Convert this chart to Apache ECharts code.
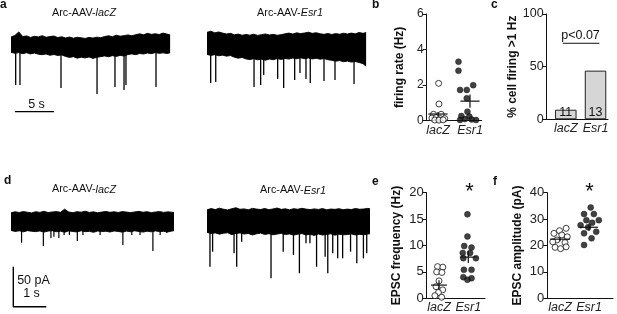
<!DOCTYPE html>
<html><head><meta charset="utf-8">
<script src="https://cdn.jsdelivr.net/npm/echarts@6/dist/echarts.min.js"></script>
<style>html,body{margin:0;padding:0;background:#fff}#c{width:617px;height:314px}</style>
</head><body><div id="c"></div>
<script>
const groups = ['lacZ', 'Esr1'];

// ---- panel a traces (time in s, amplitude arbitrary units) ----
const aTimes = [0,0.5,1,1.5,2,2.5,3,3.5,4,4.5,5,5.5,6,6.5,7,7.5,8,8.5,9,9.5,10,10.5,11,11.5,12,12.5,13,13.5,14,14.5,15,15.5,16,16.5,17,17.5,18,18.5,19,19.5,20,20.4];
const aLacZUpper = [5.5,6.8,9.5,5.9,6.4,5.2,6.1,5.6,6.6,5.3,5.9,6.3,5.1,5.7,4.8,5.5,4.6,5.3,4.9,4.4,5.2,4.7,5.4,5.0,5.9,6.5,5.8,6.9,6.2,6.6,7.2,6.5,7.4,8.0,7.3,8.4,7.6,8.1,7.5,8.6,7.8,7.2];
const aLacZLower = [-6.5,-7.4,-6.8,-7.6,-6.9,-7.8,-7.2,-8.0,-8.4,-7.9,-8.9,-8.3,-9.1,-8.6,-9.8,-10.6,-10.0,-11.2,-10.4,-11.0,-10.2,-11.4,-10.5,-10.0,-9.4,-10.1,-9.2,-9.8,-9.0,-9.5,-8.3,-7.8,-8.4,-7.5,-7.9,-7.1,-7.6,-6.8,-7.4,-7.0,-7.5,-6.9];
const aEsr1Upper = [9.2,10.1,8.8,9.5,8.6,7.9,8.4,7.3,7.8,6.9,7.5,7.0,7.7,6.8,7.4,7.9,7.1,7.6,6.9,7.4,8.0,8.6,7.9,8.8,8.2,8.7,9.3,8.4,8.9,8.1,7.6,8.3,7.5,8.2,7.7,8.5,7.9,8.6,8.0,9.1,8.4,9.0];
const aEsr1Lower = [-8.2,-9.0,-8.4,-9.3,-8.8,-9.6,-9.1,-10.4,-11.2,-10.6,-11.8,-12.3,-11.6,-12.5,-12.0,-12.8,-11.9,-12.4,-11.5,-12.2,-11.4,-11.9,-11.1,-11.7,-10.9,-11.6,-11.0,-11.8,-11.3,-12.0,-11.5,-12.4,-12.9,-13.6,-13.1,-14.0,-13.5,-14.3,-13.8,-14.6,-15.5,-17.5];
const aLacZSpikeT = [0.6,1.15,6.41,11.03,13.33,14.49,14.74,18.59];
const aLacZSpikeV = [-32.4,-32.4,-34.7,-39.5,-33.9,-36.3,-32.4,-33.9];
const aEsr1SpikeT = [0.47,1.12,6.03,6.88,7.27,9.06,9.83,11.24,11.92,12.69,13.24,15.0,16.41,18.85];
const aEsr1SpikeV = [-30.8,-30.0,-33.9,-32.4,-24.5,-27.6,-34.7,-28.4,-22.9,-27.6,-30.8,-29.2,-28.4,-31.6];
const aScaleBar = [[0.5,-53.4],[5.5,-53.4]]; // 5 s

// ---- panel d traces (time in s, current in pA) ----
const dTimes = [0,0.125,0.25,0.375,0.5,0.625,0.75,0.875,1,1.125,1.25,1.375,1.5,1.625,1.75,1.875,2,2.125,2.25,2.375,2.5,2.625,2.75,2.875,3,3.125,3.25,3.375,3.5,3.625,3.75,3.875,4,4.125,4.25,4.375,4.5,4.625,4.75,4.875,4.94];
const dLacZUpper = [11.5,12.8,11.9,13.1,12.2,11.4,12.9,12.0,13.4,11.8,12.6,13.0,12.1,16.0,12.5,11.7,12.9,12.3,13.5,12.0,12.7,11.6,12.4,13.2,12.1,12.8,11.9,13.0,12.4,11.8,12.6,13.3,12.2,12.9,11.7,12.5,13.1,12.0,12.7,12.2,11.9];
const dLacZLower = [-10.5,-11.8,-11.0,-12.3,-10.8,-11.6,-12.0,-11.2,-12.6,-11.4,-10.9,-12.2,-11.5,-12.8,-11.1,-11.9,-12.4,-11.0,-12.1,-11.7,-12.9,-11.3,-12.0,-11.6,-12.5,-11.2,-11.8,-12.7,-11.4,-12.2,-11.0,-11.9,-12.6,-11.5,-12.3,-11.1,-12.0,-11.7,-12.4,-11.3,-10.8];
const dEsr1Upper = [15.2,16.8,15.5,17.3,16.0,15.1,16.6,17.8,15.9,16.4,15.3,17.0,16.2,15.6,16.9,15.4,16.3,17.5,15.8,16.5,15.2,16.7,15.9,17.1,16.1,15.5,16.4,15.7,16.8,15.3,16.2,15.8,16.6,15.4,16.1,15.6,16.9,15.9,16.3,17.0,16.5];
const dEsr1Lower = [-13.0,-14.5,-13.6,-15.2,-14.1,-13.4,-15.8,-14.3,-13.7,-15.0,-14.4,-16.2,-14.8,-13.9,-15.5,-14.6,-16.0,-15.1,-14.2,-15.7,-14.9,-16.4,-15.3,-14.5,-16.1,-15.4,-16.8,-15.0,-16.3,-15.6,-14.8,-16.5,-15.2,-16.0,-15.7,-14.9,-16.2,-15.5,-15.9,-15.1,-14.6];
const dLacZSpikeT = [0.32,0.98,1.21,1.30,1.45,1.61,1.77,2.01,2.18,2.70,3.39,3.66,3.91,4.30,4.52,4.72];
const dLacZSpikeV = [-25.9,-30,-20,-18.4,-20,-16.3,-16.3,-23.8,-16.3,-16.3,-28.8,-16.3,-16.3,-36.3,-16.3,-13.8];
const dEsr1SpikeT = [0.09,0.17,0.82,0.90,1.05,1.94,2.31,2.62,2.80,3.00,3.12,3.32,3.58,3.66,3.81,3.96,4.11,4.35,4.54,4.74,4.84];
const dEsr1SpikeV = [-55.9,-37.1,-39.1,-55.9,-24.6,-70.4,-37.1,-41.3,-64.1,-26.6,-26.6,-55.9,-43.4,-64.1,-39.1,-45.4,-45.4,-37.1,-51.6,-45.4,-39.1];
const dScaleBar = [[0.07,-55.9],[0.07,-105.9],[1.07,-105.9]]; // 50 pA, 1 s

// ---- panel b: firing rate (Hz) ----
const bLacZValues = [2.1,0.94,0.36,0.36,0.15,0.18,0.12,0.12,0.04,0.03,0.05];
const bLacZJitter = [0.02,0.03,-0.14,0.10,-0.19,-0.05,0.07,0.21,-0.10,0.03,0.16];
const bEsr1Values = [3.32,2.81,2.0,1.73,1.73,1.26,0.51,0.26,0.23,0.09,0.04,0.07,0.04];
const bEsr1Jitter = [-0.36,-0.36,0.10,-0.31,-0.10,-0.10,-0.08,-0.27,-0.02,-0.16,-0.31,0.05,0.19];
const bMeans = [0.375, 1.1];
const bSems = [0.12, 0.37];
const bTicks = [0, 2, 4, 6];

// ---- panel c: % cells firing > 1 Hz ----
const cPercent = [9.1, 46.2];
const cCounts = [11, 13];
const cTicks = [0, 50, 100];

// ---- panel e: EPSC frequency (Hz) ----
const eLacZValues = [6.0,5.9,5.0,4.9,3.3,2.2,1.6,1.1,0.5,0.2];
const eLacZJitter = [-0.05,0.13,-0.08,0.10,0,-0.1,0.125,-0.02,-0.14,0.09];
const eEsr1Values = [15.9,11.7,9.9,9.6,8.6,8.6,7.6,7.6,5.4,5.4,4.0,3.8,3.5];
const eEsr1Jitter = [-0.03,-0.03,-0.14,0.11,-0.19,0.06,0.26,-0.17,-0.15,0.11,-0.17,0.11,-0.03];
const eMeans = [2.5, 7.8];
const eSems = [0.9, 1.1];
const eTicks = [0, 5, 10, 15, 20];

// ---- panel f: EPSC amplitude (pA) ----
const fLacZValues = [26.5,25.6,24.6,24.0,23.3,22.1,21.4,21.1,19.3,18.8,19.5];
const fLacZJitter = [0.21,-0.02,-0.21,0.06,0.25,-0.11,-0.25,0.17,-0.17,0.02,0.21];
const fEsr1Values = [34.4,31.9,31.9,29.6,29.6,28.6,27.7,26.9,25.2,24.6,22.7,20.2];
const fEsr1Jitter = [0.06,-0.17,0.17,-0.09,0.34,0.11,-0.29,-0.03,0.25,-0.17,0.09,-0.17];
const fMeans = [22.4, 26.9];
const fSems = [0.8, 1.4];
const fTicks = [0, 10, 20, 30, 40];

// ================= build =================
const FONT = 'Liberation Sans, Arial, Helvetica, sans-serif';
const INK = '#111';
const LABEL_INK = '#222';

function zip(xs, ys) { return xs.map((x, i) => [x, ys[i]]); }

const grids = [
  {left: 11, top: 25, width: 160, height: 95},     // 0 a lacZ
  {left: 207, top: 25, width: 160, height: 95},    // 1 a Esr1
  {left: 11, top: 200, width: 165, height: 110},   // 2 d lacZ
  {left: 207, top: 200, width: 165, height: 110},  // 3 d Esr1
  {left: 426.7, top: 14, width: 55, height: 106.7},   // 4 b
  {left: 546.7, top: 14, width: 61.3, height: 105.3}, // 5 c
  {left: 426.7, top: 192.7, width: 58.3, height: 105.6}, // 6 e
  {left: 547.3, top: 192.7, width: 65.7, height: 105.6}  // 7 f
].map(g => Object.assign({containLabel: false, outerBoundsMode: 'none'}, g));

const hiddenX = (max) => ({type: 'value', min: 0, max: max, show: false});
const hiddenY = (min, max) => ({type: 'value', min: min, max: max, show: false});

function groupXAxis(idx, min, max) {
  return {
    type: 'value', gridIndex: idx, min: min, max: max,
    axisLine: {show: true, onZero: false, lineStyle: {color: INK, width: 1}},
    axisTick: {show: false},
    splitLine: {show: false},
    axisLabel: {
      customValues: [1, 2], margin: 3, color: LABEL_INK, fontSize: 12.5, fontStyle: 'italic', fontFamily: FONT,
      formatter: v => groups[Math.round(v) - 1] || ''
    }
  };
}
function groupYAxis(idx, ticks, name, gap, labelSize) {
  return {
    type: 'value', gridIndex: idx, min: ticks[0], max: ticks[ticks.length - 1],
    interval: ticks[1] - ticks[0],
    axisLine: {show: true, onZero: false, lineStyle: {color: INK, width: 1}},
    axisTick: {show: true, length: 4, lineStyle: {color: INK}},
    splitLine: {show: false},
    axisLabel: {margin: 3, color: LABEL_INK, fontSize: labelSize, fontFamily: FONT},
    name: name, nameLocation: 'middle', nameRotate: 90, nameGap: gap,
    nameTextStyle: {color: INK, fontSize: 12, fontWeight: 'bold', fontFamily: FONT}
  };
}

const xAxis = [
  Object.assign(hiddenX(160 / 7.8), {gridIndex: 0}),
  Object.assign(hiddenX(160 / 7.8), {gridIndex: 1}),
  Object.assign(hiddenX(5.0), {gridIndex: 2}),
  Object.assign(hiddenX(5.0), {gridIndex: 3}),
  groupXAxis(4, 0.647, 2.366),
  groupXAxis(5, 0.357, 2.42),
  groupXAxis(6, 0.58, 2.57),
  groupXAxis(7, 0.56, 2.83)
];
const yAxis = [
  Object.assign(hiddenY(-60, 15), {gridIndex: 0}),
  Object.assign(hiddenY(-60, 15), {gridIndex: 1}),
  Object.assign(hiddenY(-110, 27.5), {gridIndex: 2}),
  Object.assign(hiddenY(-110, 27.5), {gridIndex: 3}),
  groupYAxis(4, bTicks, 'firing rate (Hz)', 21, 12),
  groupYAxis(5, cTicks, '% cell firing >1 Hz', 22.5, 12.5),
  groupYAxis(6, eTicks, 'EPSC frequency (Hz)', 24, 13),
  groupYAxis(7, fTicks, 'EPSC amplitude (pA)', 24, 13)
];

const series = [];

function addTrace(idx, times, upper, lower, spikeT, spikeV, spikeW) {
  [upper, lower].forEach(env => {
    series.push({
      type: 'line', xAxisIndex: idx, yAxisIndex: idx, data: zip(times, env),
      symbol: 'none', silent: true, animation: false,
      lineStyle: {color: '#000', width: 0.9},
      areaStyle: {color: '#000', opacity: 1, origin: 0}
    });
  });
  series.push({
    type: 'custom', xAxisIndex: idx, yAxisIndex: idx, data: zip(spikeT, spikeV),
    silent: true, animation: false, clip: false,
    renderItem: (p, api) => {
      const a = api.coord([api.value(0), 0]);
      const b = api.coord([api.value(0), api.value(1)]);
      return {type: 'line', shape: {x1: a[0], y1: a[1], x2: b[0], y2: b[1]},
        style: {stroke: '#000', lineWidth: spikeW}};
    }
  });
}
addTrace(0, aTimes, aLacZUpper, aLacZLower, aLacZSpikeT, aLacZSpikeV, 1.3);
addTrace(1, aTimes, aEsr1Upper, aEsr1Lower, aEsr1SpikeT, aEsr1SpikeV, 1.3);
addTrace(2, dTimes, dLacZUpper, dLacZLower, dLacZSpikeT, dLacZSpikeV, 1.2);
addTrace(3, dTimes, dEsr1Upper, dEsr1Lower, dEsr1SpikeT, dEsr1SpikeV, 1.3);

// scale bars
series.push({type: 'line', xAxisIndex: 0, yAxisIndex: 0, data: aScaleBar, symbol: 'none',
  lineStyle: {color: '#000', width: 1.4}, animation: false, silent: true});
series.push({type: 'line', xAxisIndex: 2, yAxisIndex: 2, data: dScaleBar, symbol: 'none',
  lineStyle: {color: '#000', width: 1.4}, animation: false, silent: true});

function addScatterPanel(idx, lacV, lacJ, esrV, esrJ, means, sems, halfW) {
  series.push({
    type: 'scatter', xAxisIndex: idx, yAxisIndex: idx, symbol: 'circle', symbolSize: 6,
    data: lacV.map((v, i) => [1 + lacJ[i], v]), animation: false, silent: true,
    itemStyle: {color: '#fff', borderColor: INK, borderWidth: 1}
  });
  series.push({
    type: 'scatter', xAxisIndex: idx, yAxisIndex: idx, symbol: 'circle', symbolSize: 6,
    data: esrV.map((v, i) => [2 + esrJ[i], v]), animation: false, silent: true,
    itemStyle: {color: INK, borderColor: INK, borderWidth: 0.5}
  });
  series.push({
    type: 'custom', xAxisIndex: idx, yAxisIndex: idx, z: 5, animation: false, silent: true,
    data: means.map((m, i) => [i + 1, m, sems[i], halfW[i]]),
    renderItem: (p, api) => {
      const x = api.value(0), m = api.value(1), s = api.value(2), w = api.value(3);
      const h0 = api.coord([x - w, m]), h1 = api.coord([x + w, m]);
      const v0 = api.coord([x, m - s]), v1 = api.coord([x, m + s]);
      return {type: 'group', children: [
        {type: 'line', shape: {x1: h0[0], y1: h0[1], x2: h1[0], y2: h1[1]}, style: {stroke: INK, lineWidth: 1.2}},
        {type: 'line', shape: {x1: v0[0], y1: v0[1], x2: v1[0], y2: v1[1]}, style: {stroke: INK, lineWidth: 1.2}}
      ]};
    }
  });
}
addScatterPanel(4, bLacZValues, bLacZJitter, bEsr1Values, bEsr1Jitter, bMeans, bSems, [0.3, 0.3]);
addScatterPanel(6, eLacZValues, eLacZJitter, eEsr1Values, eEsr1Jitter, eMeans, eSems, [0.27, 0.29]);
addScatterPanel(7, fLacZValues, fLacZJitter, fEsr1Values, fEsr1Jitter, fMeans, fSems, [0.34, 0.31]);

// panel c bars
series.push({
  type: 'bar', xAxisIndex: 5, yAxisIndex: 5, barWidth: 21.5, animation: false, silent: true,
  data: cPercent.map((v, i) => [i + 1, v]),
  itemStyle: {color: '#d6d6d6', borderColor: '#222', borderWidth: 1},
  label: {show: true, position: 'insideBottom', distance: 0, color: INK, fontSize: 12.5, fontFamily: FONT,
    formatter: p => String(cCounts[p.dataIndex])}
});
// significance line in c
series.push({type: 'line', xAxisIndex: 5, yAxisIndex: 5, data: [[0.9, 72.2], [2.13, 72.2]], symbol: 'none',
  lineStyle: {color: INK, width: 1}, animation: false, silent: true});

function txt(x, y, text, size, opts) {
  return {type: 'text', x: x, y: y, silent: true,
    style: Object.assign({text: text, fill: INK, fontSize: size, fontFamily: FONT,
      textAlign: 'center', textVerticalAlign: 'middle', align: 'center', verticalAlign: 'middle',
      rich: {i: {fontStyle: 'italic', fontSize: size, fontFamily: FONT, fill: INK}}}, opts || {})};
}
const left = {textAlign: 'left', align: 'left'};
const bold = {fontWeight: 'bold'};
const graphics = [
  txt(0, 4.5, 'a', 12, Object.assign({}, left, bold)),
  txt(372, 4.5, 'b', 12, Object.assign({}, left, bold)),
  txt(491, 4.5, 'c', 12, Object.assign({}, left, bold)),
  txt(4, 181, 'd', 12, Object.assign({}, left, bold)),
  txt(372, 181.5, 'e', 12, Object.assign({}, left, bold)),
  txt(493, 182, 'f', 12, Object.assign({}, left, bold)),
  txt(84, 13.3, 'Arc-AAV-{i|lacZ}', 10.8),
  txt(290, 13.3, 'Arc-AAV-{i|Esr1}', 10.8),
  txt(84, 189.5, 'Arc-AAV-{i|lacZ}', 10.8),
  txt(293, 190.5, 'Arc-AAV-{i|Esr1}', 10.8),
  txt(36.5, 105, '5 s', 12.5),
  txt(33.5, 280.5, '50 pA', 12.5),
  txt(31.5, 293.5, '1 s', 12.5),
  txt(580.5, 36, 'p<0.07', 12.5),
  txt(469.5, 191.5, '*', 22),
  txt(589.5, 191.5, '*', 22)
];

const chart = echarts.init(document.getElementById('c'), null, {renderer: 'canvas', width: 617, height: 314});
chart.setOption({
  animation: false,
  backgroundColor: '#fff',
  textStyle: {fontFamily: FONT},
  grid: grids,
  xAxis: xAxis,
  yAxis: yAxis,
  series: series,
  graphic: {elements: graphics}
});
</script>
</body></html>
